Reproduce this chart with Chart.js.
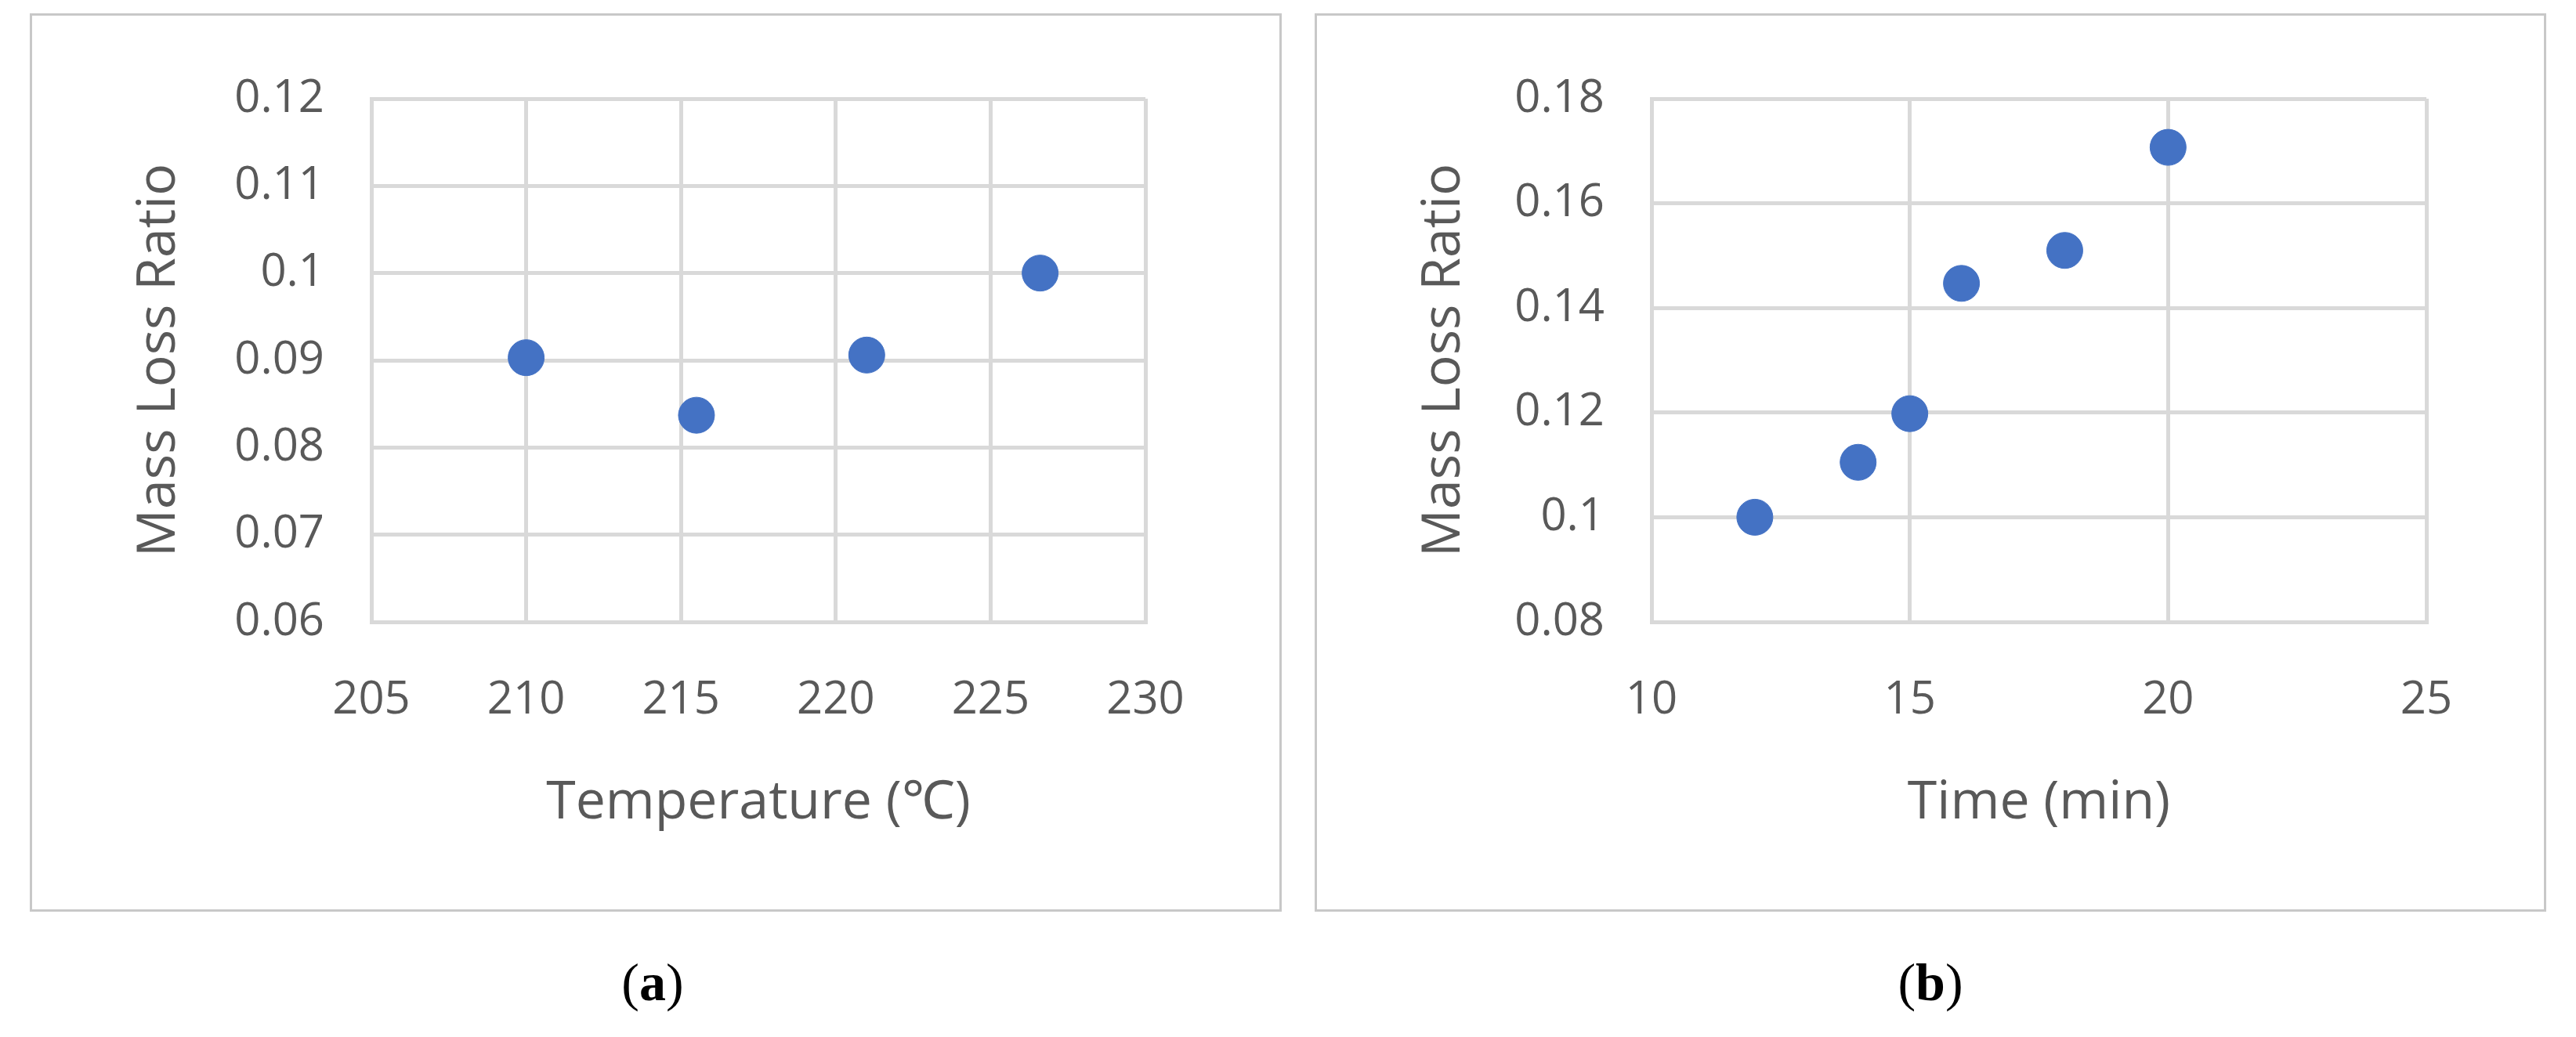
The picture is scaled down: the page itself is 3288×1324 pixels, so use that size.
<!DOCTYPE html>
<html><head><meta charset="utf-8">
<script src="https://cdn.jsdelivr.net/npm/chart.js@4/dist/chart.umd.min.js"></script>
<style>
body{margin:0;background:#fff;width:3288px;height:1324px;position:relative;font-family:"Open Sans",sans-serif}
.box{position:absolute;top:17px;height:1147px;border:3px solid #c8c8c8;box-sizing:border-box}
.cap{position:absolute;top:1215px;font-family:"Liberation Serif",serif;font-size:68px;color:#000;transform:translateX(-50%)}
</style></head>
<body>
<div class="box" style="left:38px;width:1598px"><canvas id="ca"></canvas></div>
<div class="box" style="left:1678px;width:1572px"><canvas id="cb"></canvas></div>
<div class="cap" style="left:833px">(<b>a</b>)</div>
<div class="cap" style="left:2464px">(<b>b</b>)</div>
<script>
// panel (a)
const temp_x = [210, 215.5, 221, 226.6];
const temp_loss = [0.0903, 0.0837, 0.0906, 0.1];
// panel (b)
const time_x = [12, 14, 15, 16, 18, 20];
const time_loss = [0.1, 0.1105, 0.1198, 0.1447, 0.151, 0.1707];

const grey = "#595959";

function makeChart(id, xs, ys, xr, yr, xTitle, leftW, rightPad) {
	const w = id == "ca" ? 1592 : 1566;
	const cv = document.getElementById(id);
	cv.width = w; cv.height = 1141;
	cv.style.width = w + "px"; cv.style.height = "1141px";
	return new Chart(cv.getContext("2d"), {
		type: "scatter",
		data: {
			datasets: [{
				data: xs.map((x, i) => ({ x: x, y: ys[i] })),
				backgroundColor: "#4472C4",
				borderColor: "#4472C4",
				pointRadius: 23,
			}],
		},
		options: {
			responsive: false,
			animation: false,
			layout: { padding: { top: 106, right: rightPad, left: 0, bottom: 0 } },
			plugins: { legend: { display: false }, tooltip: { enabled: false } },
			scales: {
				x: {
					min: xr[0], max: xr[1], ticks: { stepSize: 5, color: grey, font: { size: 58, family: "Open Sans" }, padding: 66 },
					grid: { color: "#d9d9d9", lineWidth: 5, drawTicks: false },
					border: { color: "#d9d9d9", width: 5 },
					title: { display: true, text: xTitle, color: grey, font: { size: 68, family: "Open Sans" }, padding: { top: 20, bottom: 95 } },
					afterFit: (s) => { s.height = 367; },
				},
				y: {
					min: yr[0], max: yr[1],
					ticks: { stepSize: yr[2], color: grey, font: { size: 58, family: "Open Sans" }, padding: 60,
						callback: (v) => String(+v.toFixed(3)) },
					grid: { color: "#d9d9d9", lineWidth: 5, drawTicks: false },
					border: { color: "#d9d9d9", width: 5 },
					title: { display: true, text: "Mass Loss Ratio", color: grey, font: { size: 68, family: "Open Sans" }, padding: { top: 122, bottom: 0 } },
					afterFit: (s) => { s.width = leftW; },
				},
			},
		},
	});
}

makeChart("ca", temp_x, temp_loss, [205, 230], [0.06, 0.12, 0.01], "Temperature (\u2103)", 433, 171);
makeChart("cb", time_x, time_loss, [10, 25], [0.08, 0.18, 0.02], "Time (min)", 427, 150);
</script>
</body></html>
